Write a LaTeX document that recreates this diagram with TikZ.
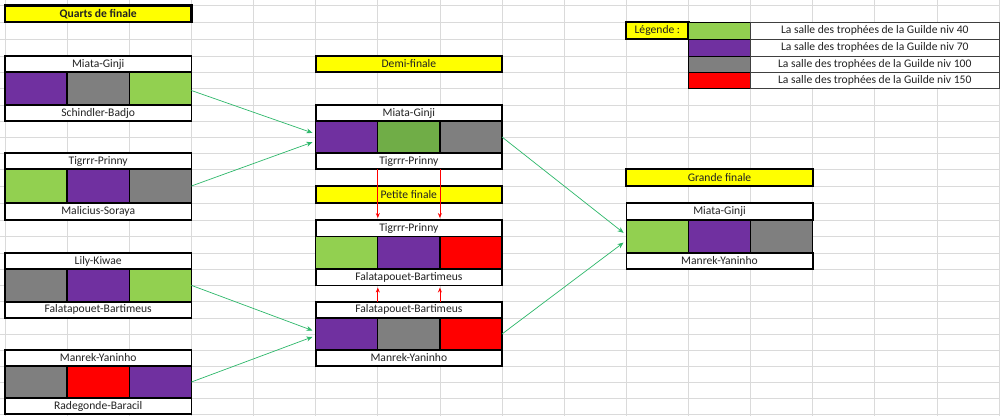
\documentclass[tikz,border=0pt]{standalone}
\usepackage{fontspec}
\setmainfont{Carlito}
\usetikzlibrary{fit,arrows.meta}
\definecolor{cpurple}{HTML}{7030A0}
\definecolor{cgray}{HTML}{7F7F7F}
\definecolor{cgreen}{HTML}{92D050}
\definecolor{cdkgreen}{HTML}{70AD47}
\definecolor{cred}{HTML}{FF0000}
\definecolor{cyellow}{HTML}{FFFF00}
\definecolor{gridc}{HTML}{DADADA}
\definecolor{txt}{HTML}{222222}
\definecolor{arrgreen}{HTML}{2DB86A}
\definecolor{legborder}{HTML}{404040}
\foreach \i/\v in {0/5,1/67.1,2/129.3,3/191.4,4/253.5,5/315.7,6/377.8,7/439.9,8/502,9/564.2,10/626.3,11/688.4,12/750.6,13/812.7,14/874.8,15/936.9,16/999}{\expandafter\xdef\csname cx\i\endcsname{\v}}
\foreach \i/\v in {0/5.5,1/22,2/39,3/56,4/72,5/88.5,6/105,7/121,8/137,9/153,10/169,11/186,12/203,13/220,14/236.5,15/253,16/269,17/285.5,18/301.7,19/318,20/334,21/350,22/366,23/382,24/398,25/414}{\expandafter\xdef\csname ry\i\endcsname{\v}}
\newcommand\colx[1]{\csname cx\the\numexpr#1\relax\endcsname}
\newcommand\rowy[1]{\csname ry\the\numexpr#1\relax\endcsname}
\newcommand\fs{\fontsize{11.6}{13}\selectfont}
\tikzset{
  gridline/.style={draw=gridc, line width=0.8pt},
  cellc/.style={draw=black, line width=1.3pt, inner sep=0pt, outer sep=0pt},
  namec/.style={draw=black, line width=1.6pt, fill=white, inner sep=0pt, outer sep=0pt},
  titlec/.style={draw=black, line width=2.2pt, fill=cyellow, inner sep=0pt, outer sep=0pt},
  legcol/.style={draw=black, line width=1pt, inner sep=0pt, outer sep=0pt},
  legtxt/.style={draw=legborder, line width=0.9pt, fill=white, inner sep=0pt, outer sep=0pt},
  lbl/.style={font=\fs, text=txt, inner sep=0pt},
  txtin/.style={label={[lbl]center:#1}},
  boldin/.style={label={[lbl, font=\fs\bfseries]center:#1}},
  garrow/.style={draw=arrgreen, line width=0.7pt, -{Stealth[length=6pt,width=5pt]}, shorten >=3.5pt},
  rarrow/.style={draw=cred, line width=0.7pt, -{Stealth[length=5pt,width=4pt]}, shorten >=2pt},
}
\newcommand\matchbox[8]{%
  \node[cellc, fill=#6, fit={(\colx{#2},\rowy{#3+1}) (\colx{#2+1},\rowy{#3+3})}] (#1-c1) {};
  \node[cellc, fill=#7, fit={(\colx{#2+1},\rowy{#3+1}) (\colx{#2+2},\rowy{#3+3})}] (#1-c2) {};
  \node[cellc, fill=#8, fit={(\colx{#2+2},\rowy{#3+1}) (\colx{#2+3},\rowy{#3+3})}] (#1-c3) {};
  \node[namec, txtin={#4}, fit={(\colx{#2},\rowy{#3}) (\colx{#2+3},\rowy{#3+1})}] (#1-top) {};
  \node[namec, txtin={#5}, fit={(\colx{#2},\rowy{#3+3}) (\colx{#2+3},\rowy{#3+4})}] (#1-bot) {};
}
\begin{document}
\begin{tikzpicture}[x=1pt, y=-1pt]
\useasboundingbox[fill=white] (0,0) rectangle (1000,416);
% spreadsheet grid
\foreach \i in {0,...,16} \draw[gridline] (\colx{\i},0) -- (\colx{\i},416);
\foreach \i in {0,...,25} \draw[gridline] (0,\rowy{\i}) -- (1000,\rowy{\i});
% titles
\node[titlec, boldin={Quarts de finale}, fit={(\colx{0},\rowy{0}) (\colx{3},\rowy{1})}] (tq) {};
\node[titlec, txtin={Demi-finale}, fit={(\colx{5},\rowy{3}) (\colx{8},\rowy{4})}] (td) {};
\node[titlec, txtin={Petite finale}, fit={(\colx{5},\rowy{11}) (\colx{8},\rowy{12})}] (tp) {};
\node[titlec, txtin={Grande finale}, fit={(\colx{10},\rowy{10}) (\colx{13},\rowy{11})}] (tg) {};
% quarter finals
\matchbox{Q1}{0}{3}{Miata-Ginji}{Schindler-Badjo}{cpurple}{cgray}{cgreen}
\matchbox{Q2}{0}{9}{Tigrrr-Prinny}{Malicius-Soraya}{cgreen}{cpurple}{cgray}
\matchbox{Q3}{0}{15}{Lily-Kiwae}{Falatapouet-Bartimeus}{cgray}{cpurple}{cgreen}
\matchbox{Q4}{0}{21}{Manrek-Yaninho}{Radegonde-Baracil}{cgray}{cred}{cpurple}
% semi finals
\matchbox{D1}{5}{6}{Miata-Ginji}{Tigrrr-Prinny}{cpurple}{cdkgreen}{cgray}
\matchbox{P}{5}{13}{Tigrrr-Prinny}{Falatapouet-Bartimeus}{cgreen}{cpurple}{cred}
\matchbox{D2}{5}{18}{Falatapouet-Bartimeus}{Manrek-Yaninho}{cpurple}{cgray}{cred}
% final
\matchbox{G}{10}{12}{Miata-Ginji}{Manrek-Yaninho}{cgreen}{cpurple}{cgray}
% legend
\node[titlec, txtin={Légende :}, fit={(\colx{10},\rowy{1}) (\colx{11},\rowy{2})}] (leg) {};
\node[legcol, fill=cgreen, fit={(\colx{11},\rowy{1}) (\colx{12},\rowy{2})}] (L1c) {};
\node[legcol, fill=cpurple, fit={(\colx{11},\rowy{2}) (\colx{12},\rowy{3})}] (L2c) {};
\node[legcol, fill=cgray, fit={(\colx{11},\rowy{3}) (\colx{12},\rowy{4})}] (L3c) {};
\node[legcol, fill=cred, fit={(\colx{11},\rowy{4}) (\colx{12},\rowy{5})}] (L4c) {};
\node[legtxt, txtin={La salle des trophées de la Guilde niv 40}, fit={(\colx{12},\rowy{1}) (\colx{16},\rowy{2})}] (L1t) {};
\node[legtxt, txtin={La salle des trophées de la Guilde niv 70}, fit={(\colx{12},\rowy{2}) (\colx{16},\rowy{3})}] (L2t) {};
\node[legtxt, txtin={La salle des trophées de la Guilde niv 100}, fit={(\colx{12},\rowy{3}) (\colx{16},\rowy{4})}] (L3t) {};
\node[legtxt, txtin={La salle des trophées de la Guilde niv 150}, fit={(\colx{12},\rowy{4}) (\colx{16},\rowy{5})}] (L4t) {};
% green connectors
\draw[garrow] ([yshift=-2pt]Q1-c3.east) -- ([yshift=3pt]D1-c1.west);
\draw[garrow] (Q2-c3.east) -- ([yshift=-4pt]D1-c1.west);
\draw[garrow] (Q3-c3.east) -- ([yshift=2.3pt]D2-c1.west);
\draw[garrow] (Q4-c3.east) -- ([yshift=-1.7pt]D2-c1.west);
\draw[garrow] (D1-c3.east) -- ([yshift=1.5pt]G-c1.west);
\draw[garrow] (D2-c3.east) -- ([yshift=-4pt]G-c1.west);
% red connectors
\draw[rarrow] (D1-c1.east |- D1-bot.south) -- (D1-c1.east |- P-top.north);
\draw[rarrow] (D1-c2.east |- D1-bot.south) -- (D1-c2.east |- P-top.north);
\draw[rarrow] (D2-c1.east |- D2-top.north) -- (D2-c1.east |- P-bot.south);
\draw[rarrow] (D2-c2.east |- D2-top.north) -- (D2-c2.east |- P-bot.south);
\end{tikzpicture}
\end{document}
